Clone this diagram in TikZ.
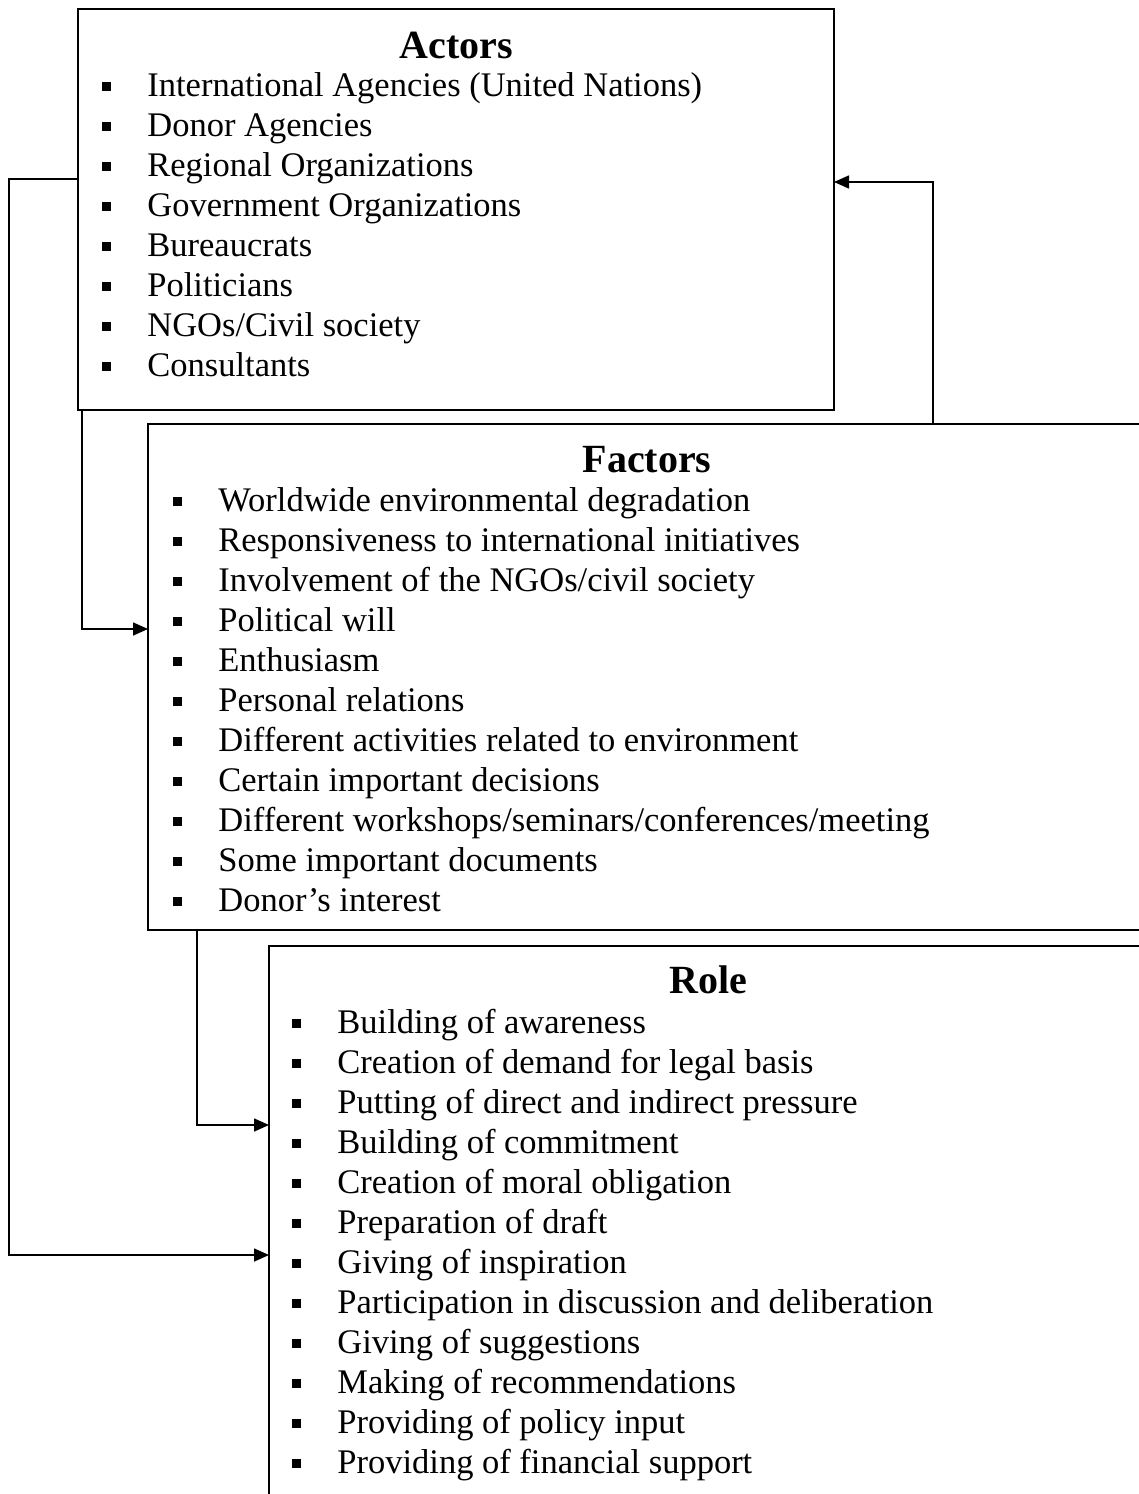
\documentclass[tikz,border=0pt]{standalone}
\usepackage{fontspec}
\setmainfont{Liberation Serif}
\usepackage{tikz}
\usetikzlibrary{arrows.meta,positioning,calc}

\newcommand{\itemfont}{\fontsize{17.25}{20}\selectfont}
\newcommand{\headfont}{\fontsize{20}{24}\selectfont\bfseries}
\newcommand{\sqbul}{\llap{\rule[2.5pt]{4.5pt}{4.5pt}\hspace{18pt}}}

\begin{document}
\begin{tikzpicture}[
    x=0.5pt, y=-0.5pt,
    box/.style={draw, line width=1pt, rectangle, inner sep=0pt, outer sep=0pt, anchor=north west},
    head/.style={font=\headfont, inner sep=0pt, anchor=base},
    entry/.style={font=\itemfont, inner sep=0pt, anchor=base west},
    link/.style={-{Triangle[length=7.5pt,width=6.5pt]}, line width=0.8pt}
]
\useasboundingbox (0,0) rectangle (1139,1494);
\clip (0,0) rectangle (1139,1494);

% the three boxes (factors and role run past the page edge)
\node[box, minimum width=378pt, minimum height=200.5pt] (actors) at (78,9) {};
\node[box, minimum width=516pt, minimum height=253pt] (factors) at (148,424) {};
\node[box, minimum width=456pt, minimum height=300pt] (role) at (269,946) {};

\node[head] (actorshead) at (456,58) {Actors};
\node[head] (factorshead) at (647,472) {Factors};
\node[head] (rolehead) at (708,993) {Role};

% actors
\foreach \t [count=\i from 0] in {International Agencies (United Nations), Donor Agencies,
    Regional Organizations, Government Organizations, Bureaucrats, Politicians,
    NGOs/Civil society, Consultants}
  \node[entry] (a\i) at (147,96+40*\i) {\sqbul\t};

% factors
\foreach \t [count=\i from 0] in {Worldwide environmental degradation,
    Responsiveness to international initiatives, Involvement of the NGOs/civil society,
    Political will, Enthusiasm, Personal relations,
    Different activities related to environment, Certain important decisions,
    Different workshops/seminars/conferences/meeting, Some important documents,
    Donor’s interest}
  \node[entry] (f\i) at (218,511+40*\i) {\sqbul\t};

% role
\foreach \t [count=\i from 0] in {Building of awareness, Creation of demand for legal basis,
    Putting of direct and indirect pressure, Building of commitment,
    Creation of moral obligation, Preparation of draft, Giving of inspiration,
    Participation in discussion and deliberation, Giving of suggestions,
    Making of recommendations, Providing of policy input,
    Providing of financial support}
  \node[entry] (r\i) at (337,1033+40*\i) {\sqbul\t};

% connectors
\draw[link] (actors.west |- 0,179) -- ++(-69,0) |- (role.west |- 0,1255);
\draw[link] (actors.south west -| 82,0) |- (factors.west |- 0,629);
\draw[link] (factors.south west -| 197,0) |- (role.west |- 0,1125);
\draw[link] (factors.north -| 933,0) |- (actors.east |- 0,182);

\end{tikzpicture}
\end{document}
